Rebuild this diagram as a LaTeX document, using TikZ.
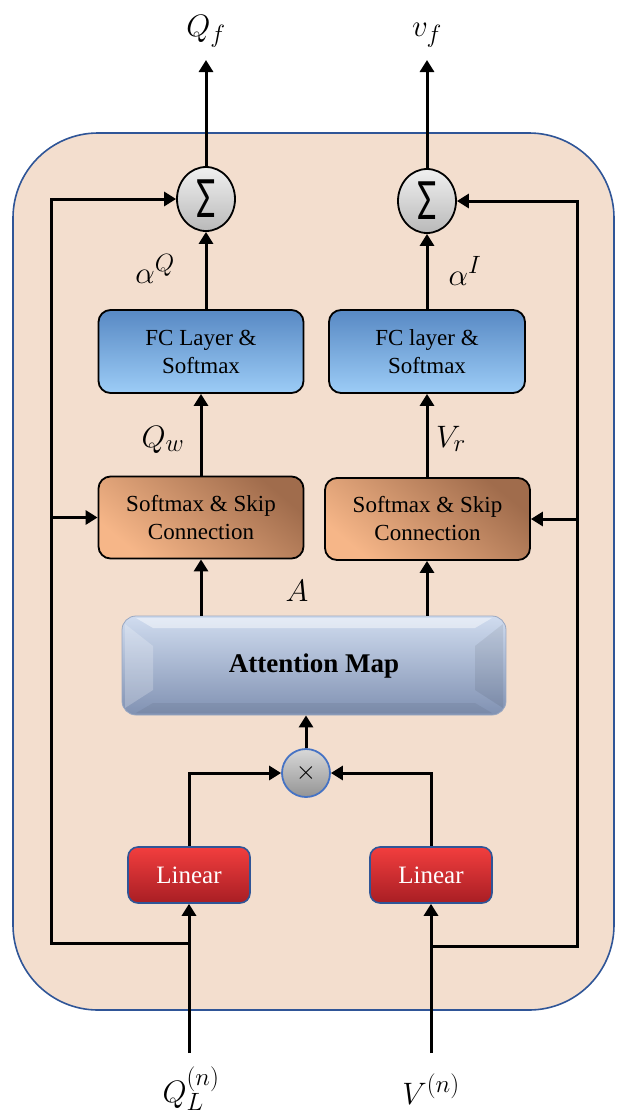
\RequirePackage{fix-cm}
\documentclass[tikz,border=0pt]{standalone}
\usepackage{fontspec}
\usepackage{graphicx}
\setmainfont{Liberation Serif}
\newfontfamily\sigmafont{Carlito}
\usetikzlibrary{shapes.geometric,arrows.meta,calc}
\DeclareMathSizes{31}{31}{25}{20}

\definecolor{paper}{RGB}{243,222,206}
\definecolor{frameblue}{RGB}{47,85,151}
\definecolor{fcTop}{RGB}{88,137,196}
\definecolor{fcBot}{RGB}{156,204,246}
\definecolor{smDark}{RGB}{160,108,76}
\definecolor{smLight}{RGB}{246,182,136}
\definecolor{attTop}{RGB}{208,220,239}
\definecolor{attBot}{RGB}{128,145,178}
\definecolor{linTop}{RGB}{242,62,62}
\definecolor{linBot}{RGB}{168,30,36}
\definecolor{sumTop}{RGB}{240,240,240}
\definecolor{sumBot}{RGB}{185,185,185}
\definecolor{mulBlue}{RGB}{70,115,196}

\begin{document}
\begin{tikzpicture}[x=1pt,y=-1pt,
  wire/.style={line width=3pt},
  arr/.style={line width=3pt,-{Triangle[length=12pt,width=14pt]}},
  fcbox/.style={draw=black,line width=1.8pt,rounded corners=12pt,
    minimum width=205pt,minimum height=83pt,inner sep=0pt,
    top color=fcTop,bottom color=fcBot,align=center,
    font=\fontsize{23}{28}\selectfont},
  smbox/.style={draw=black,line width=1.8pt,rounded corners=12pt,
    minimum width=205pt,minimum height=82pt,inner sep=0pt,
    top color=smDark,bottom color=smLight,shading angle=-40,align=center,
    font=\fontsize{23}{28}\selectfont},
  linbox/.style={draw=frameblue,line width=1.6pt,rounded corners=10pt,
    minimum width=122pt,minimum height=56pt,inner sep=0pt,
    top color=linTop,bottom color=linBot,text=white,
    font=\fontsize{25}{28}\selectfont},
  sumnode/.style={ellipse,draw=black,line width=1.8pt,
    minimum width=58pt,minimum height=64pt,inner sep=0pt,
    top color=sumTop,bottom color=sumBot},
  mulnode/.style={circle,draw=mulBlue,line width=1.8pt,
    minimum size=48pt,inner sep=0pt,top color=sumTop!90!black,bottom color=sumBot!80!black},
  lab/.style={font=\fontsize{31}{34}\selectfont,inner sep=0pt,anchor=base}
]
\useasboundingbox (0,0) rectangle (617,1120);

% textured panel
\draw[fill=paper,draw=frameblue,line width=1.6pt,rounded corners=85pt]
  (13,133) rectangle (614,1010);

% summation nodes
\node[sumnode] (sigL) at (206,199) {\sigmafont\fontsize{42}{42}\selectfont\scalebox{1}[1.4]{Σ}};
\node[sumnode] (sigR) at (427,201) {\sigmafont\fontsize{42}{42}\selectfont\scalebox{1}[1.4]{Σ}};

% FC blocks
\node[fcbox] (fcL) at (201,351.5) {FC Layer \&\\Softmax};
\node[fcbox,minimum width=196pt] (fcR) at (427,351.5) {FC layer \&\\Softmax};

% softmax + skip blocks
\node[smbox] (smL) at (201,517.5) {Softmax \& Skip\\Connection};
\node[smbox] (smR) at (427.5,519) {Softmax \& Skip\\Connection};

% attention map with bevelled face
\node[draw=attBot!80!white,line width=0.8pt,rounded corners=14pt,
  minimum width=384pt,minimum height=99pt,inner sep=0pt,
  top color=attTop,bottom color=attBot] (att) at (314,665.5) {};
\fill[white,opacity=0.22] (125,624) -- (153,646) -- (153,690) -- (125,708) -- cycle;
\fill[black,opacity=0.07] (503,624) -- (475,646) -- (475,690) -- (503,708) -- cycle;
\fill[white,opacity=0.45] (136,618) -- (492,618) -- (475,628) -- (153,628) -- cycle;
\fill[black,opacity=0.06] (136,713) -- (492,713) -- (475,703) -- (153,703) -- cycle;
\node[font=\bfseries\fontsize{27}{30}\selectfont] at (att) {Attention Map};

% product node
\node[mulnode] (mul) at (306,773) {\fontsize{26}{26}\selectfont$\times$};

% linear projections
\node[linbox] (linL) at (189,875) {Linear};
\node[linbox] (linR) at (431,875) {Linear};

% free ends
\coordinate (inL) at (189,1053);
\coordinate (inR) at (431,1053);
\coordinate (outL) at (206,60);
\coordinate (outR) at (427,60);
\coordinate (jL) at (189,943);
\coordinate (jR) at (431,946);
\coordinate (fbL) at (51,943);
\coordinate (fbR) at (577,946);

% main data flow
\draw[arr] (inL) -- (linL.south);
\draw[arr] (inR) -- (linR.south);
\draw[arr] (linL.north) |- (mul.west);
\draw[arr] (linR.north) |- (mul.east);
\draw[arr] (mul.north) -- (mul |- att.south);
\draw[arr] (smL |- att.north) -- (smL.south);
\draw[arr] (sigR |- att.north) -- (sigR |- smR.south);
\draw[arr] (smL.north) -- (smL |- fcL.south);
\draw[arr] (sigR |- smR.north) -- (sigR |- fcR.south);
\draw[arr] (sigL |- fcL.north) -- (sigL.south);
\draw[arr] (sigR |- fcR.north) -- (sigR.south);
\draw[arr] (sigL.north) -- (outL);
\draw[arr] (sigR.north) -- (outR);

% skip paths
\draw[arr] (jL) -- (fbL) |- (sigL.west);
\draw[arr] (fbL |- smL.west) -- (smL.west);
\draw[arr] (jR) -- (fbR) |- (sigR.east);
\draw[arr] (fbR |- smR.east) -- (smR.east);

% labels
\node[lab] at (206,36) {$Q_f$};
\node[lab] at (427,36) {$v_f$};
\node[lab] at (155,283) {$\alpha^Q$};
\node[lab] at (465,285) {$\alpha^I$};
\node[lab] at (163,447) {$Q_w$};
\node[lab] at (451,447) {$V_r$};
\node[lab] at (297,601) {$A$};
\node[lab] at (191,1102) {$Q_L^{(n)}$};
\node[lab] at (431,1104) {$V^{(n)}$};
\end{tikzpicture}
\end{document}
